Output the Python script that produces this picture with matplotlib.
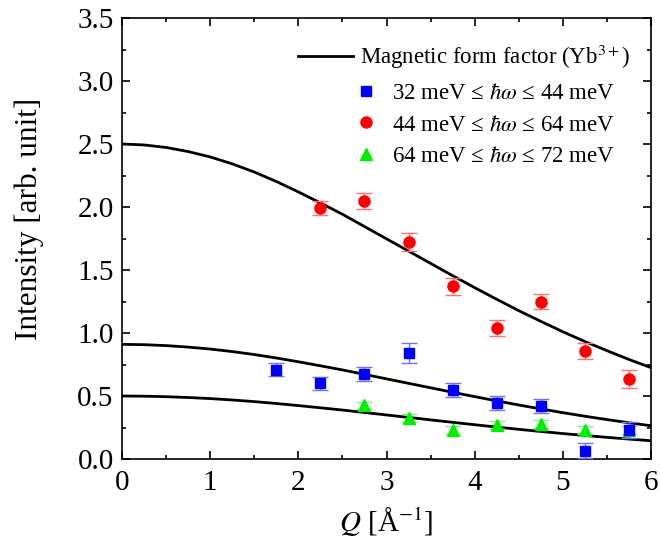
import numpy as np
import matplotlib
matplotlib.use("Agg")
import matplotlib.pyplot as plt
from matplotlib.lines import Line2D
from matplotlib.ticker import MultipleLocator, FormatStrFormatter

plt.rcParams['font.family'] = ['Liberation Serif', 'DejaVu Serif']
plt.rcParams['mathtext.fontset'] = 'stix'

# ---- data ----
Q_curve = [0.0, 0.25, 0.5, 0.75, 1.0, 1.25, 1.5, 1.75, 2.0, 2.25, 2.5, 2.75, 3.0,
           3.25, 3.5, 3.75, 4.0, 4.25, 4.5, 4.75, 5.0, 5.25, 5.5, 5.75, 6.0]
form_factor_sq = [1.000, 0.997, 0.989, 0.976, 0.959, 0.937, 0.911, 0.881, 0.848,
                  0.813, 0.777, 0.738, 0.699, 0.660, 0.621, 0.582, 0.544, 0.507,
                  0.471, 0.437, 0.404, 0.373, 0.344, 0.316, 0.290]
curve_scales = [2.5, 0.91, 0.5]

Q_blue = [1.75, 2.25, 2.75, 3.25, 3.75, 4.25, 4.75, 5.25, 5.75]
I_blue = [0.71, 0.60, 0.675, 0.84, 0.55, 0.445, 0.42, 0.065, 0.23]
E_blue = [0.05, 0.05, 0.055, 0.08, 0.055, 0.058, 0.055, 0.06, 0.065]

Q_red = [2.25, 2.75, 3.25, 3.75, 4.25, 4.75, 5.25, 5.75]
I_red = [1.99, 2.045, 1.72, 1.37, 1.04, 1.25, 0.855, 0.635]
E_red = [0.057, 0.063, 0.072, 0.066, 0.06, 0.06, 0.062, 0.075]

Q_green = [2.75, 3.25, 3.75, 4.25, 4.75, 5.25, 5.75]
I_green = [0.425, 0.325, 0.23, 0.27, 0.28, 0.23, 0.23]
E_green = [0.025, 0.03, 0.03, 0.03, 0.03, 0.03, 0.03]

line_label = r"Magnetic form factor (Yb$^{3+}$)"
labels = [r"32 meV ≤ $\hbar\omega$ ≤ 44 meV",
          r"44 meV ≤ $\hbar\omega$ ≤ 64 meV",
          r"64 meV ≤ $\hbar\omega$ ≤ 72 meV"]

# ---- figure ----
W, H = 660, 546
fig = plt.figure(figsize=(W / 100, H / 100), dpi=100)
ax = fig.add_axes([122 / W, 1 - 459 / H, 529 / W, 441 / H])

ff = np.array(form_factor_sq)
for s in curve_scales:
    ax.plot(Q_curve, s * ff, color='black', lw=2.0, zorder=2)

ax.errorbar(Q_green, I_green, yerr=E_green, fmt='^', ms=8.5, color='#00ee00',
            ecolor='#80f080', elinewidth=1, capsize=5.5, capthick=1, zorder=3)
ax.errorbar(Q_red, I_red, yerr=E_red, fmt='o', ms=8, color='#ff0000',
            ecolor='#ff7070', elinewidth=1, capsize=5.5, capthick=1, zorder=4)
ax.errorbar(Q_blue, I_blue, yerr=E_blue, fmt='s', ms=7, color='#0000ff',
            ecolor='#7070ff', elinewidth=1, capsize=5.5, capthick=1, zorder=5)

ax.set_xlim(0, 6)
ax.set_ylim(0, 3.5)
ax.xaxis.set_major_locator(MultipleLocator(1))
ax.xaxis.set_minor_locator(MultipleLocator(0.5))
ax.yaxis.set_major_locator(MultipleLocator(0.5))
ax.yaxis.set_minor_locator(MultipleLocator(0.25))
ax.yaxis.set_major_formatter(FormatStrFormatter('%.1f'))
ax.tick_params(which='both', direction='in', top=True, right=True, width=1.2)
ax.tick_params(which='major', length=5.5)
ax.tick_params(which='minor', length=3)
ax.tick_params(axis='x', labelsize=21, pad=8)
ax.tick_params(axis='y', labelsize=21, pad=6)
for sp in ax.spines.values():
    sp.set_linewidth(1.2)

ax.set_xlabel(r"$Q$ [Å$^{-1}$]", fontsize=21)
ax.xaxis.set_label_coords(0.5, -0.105)
ax.set_ylabel("Intensity [arb. unit]", fontsize=22.5)
ax.yaxis.set_label_coords(-0.147, 0.545)

# legends
fs = 16.5
h_line = [Line2D([], [], color='black', lw=2.0)]
leg1 = ax.legend(h_line, [line_label], loc='center left',
                 bbox_to_anchor=(298 / W, 1 - 57 / H), bbox_transform=fig.transFigure,
                 frameon=False, fontsize=fs, handlelength=2.4, handletextpad=0.3,
                 borderpad=0, borderaxespad=0)
ax.add_artist(leg1)
h_pts = [Line2D([], [], ls='none', marker='s', ms=7, color='#0000ff'),
         Line2D([], [], ls='none', marker='o', ms=8, color='#ff0000'),
         Line2D([], [], ls='none', marker='^', ms=8.5, color='#00ee00')]
ax.legend(h_pts, labels, loc='center left',
          bbox_to_anchor=(355 / W, 1 - 125 / H), bbox_transform=fig.transFigure,
          frameon=False, fontsize=fs, handlelength=1.0, handletextpad=0.6,
          labelspacing=0.46, borderpad=0, borderaxespad=0)

fig.savefig("out.png", dpi=100)
